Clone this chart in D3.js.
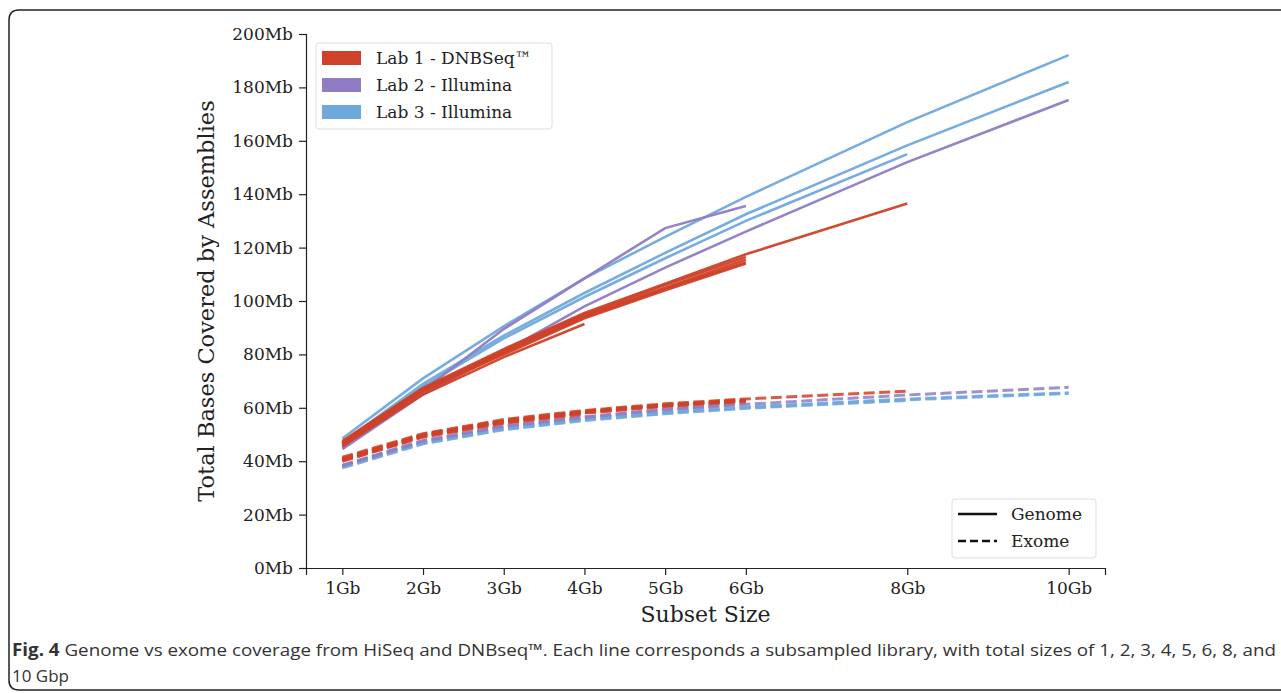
<!DOCTYPE html>
<html>
<head>
    <title>Genome vs exome coverage</title>
    <script src="https://cdn.jsdelivr.net/npm/d3@7"></script>
    <style>
        body {
            margin: 0;
            padding: 0;
            background-color: white;
        }
        .tick text {
            font-family: "DejaVu Serif", serif;
            font-size: 17px;
            fill: #222;
        }
        .axis-label {
            font-family: "DejaVu Serif", serif;
            font-size: 22px;
            fill: #222;
        }
        .legend-text {
            font-family: "DejaVu Serif", serif;
            font-size: 17px;
            fill: #222;
        }
        .caption {
            font-family: "Open Sans", "Noto Sans", sans-serif;
            font-size: 17px;
            fill: #333;
        }
    </style>
</head>
<body>
    <div id="chart"></div>

    <script>
        // subset sizes in Gb
        const subsetSizes = [1, 2, 3, 4, 5, 6, 8, 10];
        const xTickLabels = ["1Gb", "2Gb", "3Gb", "4Gb", "5Gb", "6Gb", "8Gb", "10Gb"];
        const yTickValues = [0, 20, 40, 60, 80, 100, 120, 140, 160, 180, 200];

        const labNames = ["Lab 1 - DNBSeq\u2122", "Lab 2 - Illumina", "Lab 3 - Illumina"];
        const labColors = ["#cf4128", "#8f7cc4", "#6fa8dc"];

        // Mb covered, one array per library (values stop where the library ran out)
        const lab1Genome = [
            [47.5, 67.5, 82.0, 95.5, 106.5, 117.5, 136.5],
            [47.0, 67.0, 81.5, 95.0, 106.0, 116.5],
            [46.5, 66.5, 81.0, 94.5, 105.0, 115.5],
            [46.0, 66.0, 80.5, 94.0, 104.5, 114.5],
            [47.0, 66.5, 80.0, 93.5, 104.0, 114.0],
            [45.5, 65.0, 79.0, 91.4]
        ];
        const lab2Genome = [
            [45.0, 66.5, 89.5, 108.5, 127.3, 135.6],
            [44.5, 65.0, 81.0, 98.0, 112.5, 126.0, 152.0, 175.3]
        ];
        const lab3Genome = [
            [48.5, 71.0, 90.5, 108.5, 124.0, 139.0, 167.0, 192.1],
            [47.0, 69.0, 87.0, 103.0, 118.0, 132.5, 158.3, 182.0],
            [46.0, 68.0, 86.0, 101.5, 116.0, 130.0, 155.0]
        ];

        const lab1Exome = [
            [41.5, 50.3, 55.6, 59.0, 61.5, 63.3, 66.2],
            [41.0, 50.0, 55.3, 58.7, 61.2, 63.0],
            [40.8, 49.8, 55.0, 58.4, 61.0, 62.8],
            [40.5, 49.5, 54.8, 58.2, 60.8, 62.6],
            [40.2, 49.3, 54.5, 58.0, 60.5, 62.4],
            [40.0, 49.0, 54.2, 57.6]
        ];
        const lab2Exome = [
            [38.5, 47.8, 53.2, 56.6, 59.5, 61.6],
            [38.3, 47.5, 53.0, 56.4, 59.2, 61.3, 64.8, 67.7]
        ];
        const lab3Exome = [
            [38.0, 47.0, 52.3, 55.8, 58.3, 60.3, 63.3, 65.6],
            [37.7, 46.7, 52.0, 55.5, 58.0, 60.0, 63.0, 65.4],
            [37.5, 46.5, 51.8, 55.2, 57.8, 59.8, 62.8]
        ];

        const width = 1281;
        const height = 693;

        const svg = d3.select("#chart")
            .append("svg")
            .attr("width", width)
            .attr("height", height);

        // figure frame with rounded corners (open on the right)
        svg.append("path")
            .attr("d", "M1290,10 H19 Q9,10 9,20 V680 Q9,690 19,690 H1290")
            .attr("fill", "none")
            .attr("stroke", "#222")
            .attr("stroke-width", 1.5);

        const xScale = d3.scaleLinear()
            .domain([0.55, 10.45])
            .range([306, 1105]);

        const yScale = d3.scaleLinear()
            .domain([0, 200])
            .range([568, 34]);

        const line = d3.line()
            .x((d, i) => xScale(subsetSizes[i]))
            .y(d => yScale(d));

        const groups = [
            { data: lab3Exome, color: labColors[2], dashed: true },
            { data: lab2Exome, color: labColors[1], dashed: true },
            { data: lab1Exome, color: labColors[0], dashed: true },
            { data: lab3Genome, color: labColors[2], dashed: false },
            { data: lab2Genome, color: labColors[1], dashed: false },
            { data: lab1Genome, color: labColors[0], dashed: false }
        ];

        groups.forEach(g => {
            svg.append("g")
                .selectAll("path")
                .data(g.data)
                .enter()
                .append("path")
                .attr("d", line)
                .attr("fill", "none")
                .attr("stroke", g.color)
                .attr("stroke-width", g.dashed ? 3 : 2.6)
                .attr("stroke-dasharray", g.dashed ? "11,4.5" : null)
                .attr("opacity", g.dashed ? 0.85 : 0.95);
        });

        // axes
        const xAxis = svg.append("g")
            .attr("transform", `translate(0,${yScale(0)})`)
            .call(d3.axisBottom(xScale)
                .tickValues(subsetSizes)
                .tickFormat((d, i) => xTickLabels[i])
                .tickSizeOuter(0)
                .tickSize(7)
                .tickPadding(7));

        const yAxis = svg.append("g")
            .attr("transform", `translate(${xScale.range()[0]},0)`)
            .call(d3.axisLeft(yScale)
                .tickValues(yTickValues)
                .tickFormat(d => d + "Mb")
                .tickSizeOuter(0)
                .tickSize(7)
                .tickPadding(6));

        [xAxis, yAxis].forEach(a => {
            a.select(".domain").attr("stroke", "#222").attr("stroke-width", 1.2);
            a.selectAll(".tick line").attr("stroke", "#222").attr("stroke-width", 1.2);
        });

        svg.append("text")
            .attr("class", "axis-label")
            .attr("x", (xScale.range()[0] + xScale.range()[1]) / 2)
            .attr("y", 622)
            .attr("text-anchor", "middle")
            .text("Subset Size");

        svg.append("text")
            .attr("class", "axis-label")
            .style("font-size", "22.5px")
            .attr("transform", `translate(214,${(yScale(0) + yScale(200)) / 2}) rotate(-90)`)
            .attr("text-anchor", "middle")
            .text("Total Bases Covered by Assemblies");

        // lab legend
        const legend1 = svg.append("g").attr("transform", "translate(316,43)");
        legend1.append("rect")
            .attr("width", 236)
            .attr("height", 86)
            .attr("rx", 3)
            .attr("fill", "white")
            .attr("stroke", "#ddd")
            .attr("stroke-width", 1);
        labNames.forEach((name, i) => {
            legend1.append("rect")
                .attr("x", 6)
                .attr("y", 8 + i * 27)
                .attr("width", 39)
                .attr("height", 14)
                .attr("fill", labColors[i]);
            legend1.append("text")
                .attr("class", "legend-text")
                .attr("x", 60)
                .attr("y", 21 + i * 27)
                .text(name);
        });

        // style legend
        const styleNames = ["Genome", "Exome"];
        const legend2 = svg.append("g").attr("transform", "translate(952,499)");
        legend2.append("rect")
            .attr("width", 144)
            .attr("height", 59)
            .attr("rx", 3)
            .attr("fill", "white")
            .attr("stroke", "#ddd")
            .attr("stroke-width", 1);
        styleNames.forEach((name, i) => {
            legend2.append("line")
                .attr("x1", 6)
                .attr("x2", 45)
                .attr("y1", 15 + i * 27)
                .attr("y2", 15 + i * 27)
                .attr("stroke", "#111")
                .attr("stroke-width", 2.4)
                .attr("stroke-dasharray", i === 1 ? "8,4" : null);
            legend2.append("text")
                .attr("class", "legend-text")
                .attr("x", 59)
                .attr("y", 21 + i * 27)
                .text(name);
        });

        // caption
        const cap = svg.append("text")
            .attr("class", "caption")
            .attr("x", 12)
            .attr("y", 656)
            .attr("textLength", 1264)
            .attr("lengthAdjust", "spacingAndGlyphs");
        cap.append("tspan").attr("font-weight", "bold").text("Fig. 4");
        cap.append("tspan").text(" Genome vs exome coverage from HiSeq and DNBseq\u2122. Each line corresponds a subsampled library, with total sizes of 1, 2, 3, 4, 5, 6, 8, and");
        svg.append("text")
            .attr("class", "caption")
            .attr("x", 12)
            .attr("y", 682)
            .text("10 Gbp");
    </script>
</body>
</html>
